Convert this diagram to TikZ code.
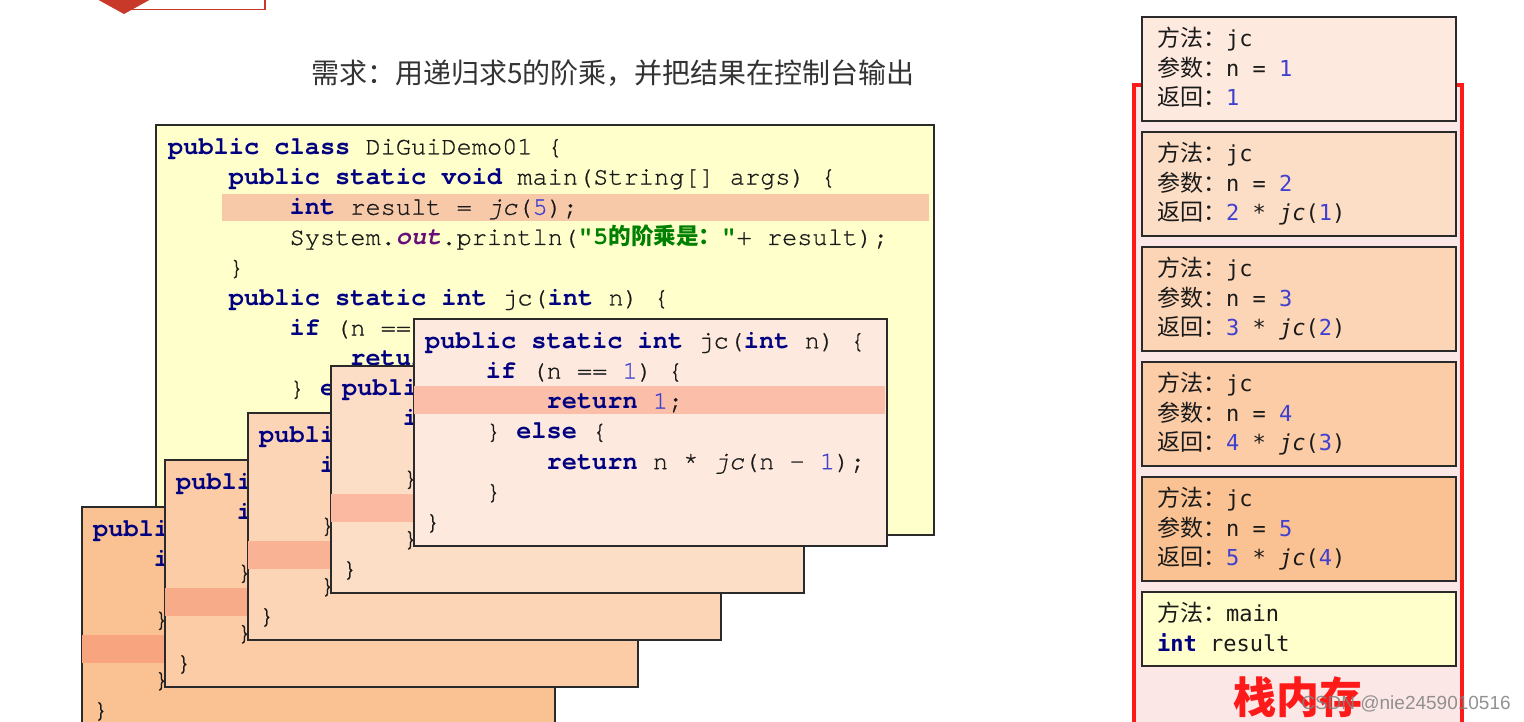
\documentclass[tikz,border=0pt]{standalone}
\usepackage{fontspec}
\usepackage{xcolor}
\usepackage{tikz}

\newfontfamily\codefont{texgyrecursor}[Extension=.otf, UprightFont=*-regular,
  BoldFont=*-bold, ItalicFont=*-italic, BoldItalicFont=*-bolditalic,
  UprightFeatures={FakeBold=0.8}, ItalicFeatures={FakeBold=0.8}]
\newfontfamily\cjk{Noto Sans CJK SC}
\newfontfamily\stackfont{DejaVu Sans Mono}
\newfontfamily\wmfont{Liberation Sans}

\definecolor{mainyellow}{HTML}{FFFFCC}
\definecolor{mainhl}{HTML}{F8C9A9}
\definecolor{fr1}{HTML}{FDE9DD}
\definecolor{fr2}{HTML}{FCDDC6}
\definecolor{fr3}{HTML}{FCD5B6}
\definecolor{fr4}{HTML}{FBCCA6}
\definecolor{fr5}{HTML}{FAC292}
\definecolor{hl1}{HTML}{FBBFA9}
\definecolor{hl2}{HTML}{FAB9A0}
\definecolor{hl3}{HTML}{F9B394}
\definecolor{hl4}{HTML}{F8AB88}
\definecolor{hl5}{HTML}{F8A47E}
\definecolor{boxgray}{HTML}{2A2A2A}
\definecolor{codeblack}{HTML}{1A1A1A}
\definecolor{kwblue}{HTML}{000080}
\definecolor{numblue}{HTML}{3F3FD0}
\definecolor{strgreen}{HTML}{008000}
\definecolor{outpurple}{HTML}{660E7A}
\definecolor{stackred}{HTML}{FF1A1A}
\definecolor{stackpink}{HTML}{FCE7E7}
\definecolor{titlegray}{HTML}{333333}
\definecolor{hdred}{HTML}{C8392A}

\newlength\charw
\setlength\charw{15.18pt}
\newcommand\codeln[1][0]{\strut\hspace*{#1\charw}}
\newcommand\kw[1]{\textcolor{kwblue}{\bfseries #1}}
\newcommand\nm[1]{\textcolor{numblue}{#1}}
\newcommand\cn[1]{{\cjk\fontsize{23}{29.5}\selectfont #1}}
\newcommand\jccode{%
\codeln\kw{public static int} jc(\kw{int} n) \{\\
\codeln[4]\kw{if} (n == \nm{1}) \{\\
\codeln[8]\kw{return} \nm{1};\\
\codeln[4]\} \kw{else} \{\\
\codeln[8]\kw{return} n * \textit{jc}(n - \nm{1});\\
\codeln[4]\}\\
\codeln\}}

\begin{document}
\begin{tikzpicture}[x=1pt,y=-1pt,
  box/.style={draw=boxgray, line width=1.6pt, anchor=north west, inner sep=0pt},
  code/.style={anchor=north west, inner sep=0pt, align=left, text=codeblack,
    font=\codefont\fontsize{25.3}{30.2}\selectfont},
  stacktxt/.style={anchor=north west, inner sep=0pt, align=left, text=codeblack,
    font=\stackfont\fontsize{22}{29.5}\selectfont}]
\clip (0,0) rectangle (1524,721);
\fill[white] (0,0) rectangle (1524,721);

% header remains
\draw[hdred, line width=1.5pt, fill=white] (132,-5) rectangle (265,9.5);
\fill[hdred] (95,-2) -- (153,-2) -- (124,14) -- cycle;

\node[font=\cjk\fontsize{28}{34}\selectfont, text=titlegray] (title) at (613,73)
  {需求：用递归求5的阶乘，并把结果在控制台输出};

% main class
\node[box, fill=mainyellow, minimum width=778pt, minimum height=410pt] (mainbox) at (155,124) {};
\fill[mainhl] (222,194) rectangle (929,221);
\node[code] (maincode) at (168,133) {%
\codeln\kw{public class} DiGuiDemo01 \{\\
\codeln[4]\kw{public static void} main(String[] args) \{\\
\codeln[8]\kw{int} result = \textit{jc}(\nm{5});\\
\codeln[8]System.\textcolor{outpurple}{\bfseries\itshape out}.println(\textcolor{strgreen}{\bfseries "5{\cjk\fontsize{22.6}{30.2}\selectfont 的阶乘是：}"}+ result);\\
\codeln[4]\}\\
\codeln[4]\kw{public static int} jc(\kw{int} n) \{\\
\codeln[8]\kw{if} (n == \nm{1}) \{\\
\codeln[12]\kw{return} \nm{1};\\
\codeln[8]\} \kw{else} \{\\
\codeln[12]\kw{return} n * \textit{jc}(n - \nm{1});\\
\codeln[8]\}\\
\codeln[4]\}\\
\codeln\}};

% recursive calls
\foreach \i/\hrow in {5/5,4/5,3/5,2/5,1/3}{
  \pgfmathsetmacro\fx{413-83*(\i-1)}
  \pgfmathsetmacro\fy{318+47*(\i-1)}
  \node[box, fill=fr\i, minimum width=473pt, minimum height=227pt] (frame\i) at (\fx,\fy) {};
  \fill[hl\i] ({\fx+1},{\fy+8+30.2*(\hrow-1)}) rectangle ({\fx+472},{\fy+36+30.2*(\hrow-1)});
  \node[code] (frame\i code) at ({\fx+12},{\fy+9}) {\jccode};
}

% stack
\draw[stackred, line width=4pt, fill=stackpink] (1134,85) rectangle (1462,760);
\foreach \k/\ret in {1/{\nm{1}},2/{\nm{2} * \textit{jc}(\nm{1})},3/{\nm{3} * \textit{jc}(\nm{2})},
    4/{\nm{4} * \textit{jc}(\nm{3})},5/{\nm{5} * \textit{jc}(\nm{4})}}{
  \pgfmathsetmacro\sy{16+115*(\k-1)}
  \node[box, fill=fr\k, minimum width=314pt, minimum height=104pt] (stack\k) at (1141,\sy) {};
  \node[stacktxt] (stack\k text) at (1157,{\sy+10})
    {\codeln\cn{方法：}jc\\\codeln\cn{参数：}n = \nm{\k}\\\codeln\cn{返回：}\ret};
}
\node[box, fill=mainyellow, minimum width=314pt, minimum height=74pt] (stackmain) at (1141,591) {};
\node[stacktxt] (stackmain text) at (1157,601)
  {\codeln\cn{方法：}main\\\codeln\kw{int} result};
\node[font=\cjk\bfseries\fontsize{43}{50}\selectfont, text=stackred] (stacklabel) at (1298,697) {栈内存};
\node[font=\wmfont\fontsize{19}{22}\selectfont, text=gray, opacity=0.85] (watermark) at (1406,704)
  {CSDN @nie2459010516};
\end{tikzpicture}
\end{document}
